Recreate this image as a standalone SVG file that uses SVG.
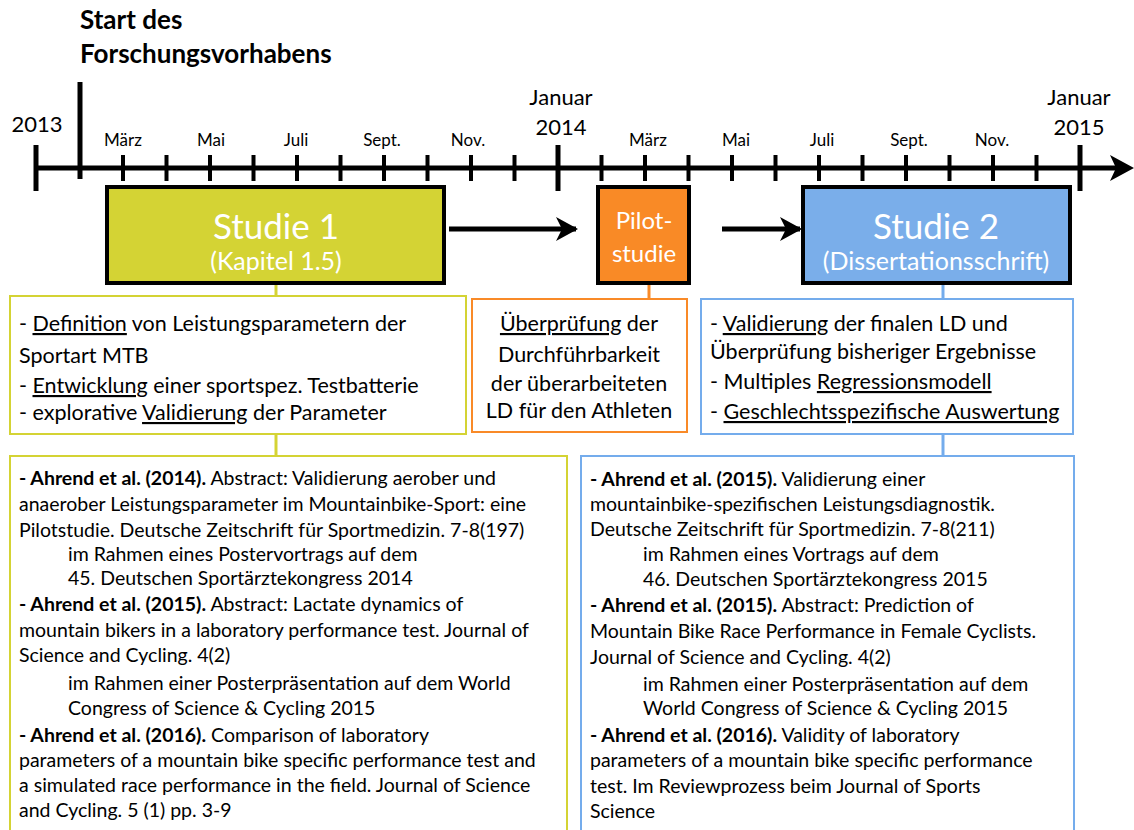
<svg xmlns="http://www.w3.org/2000/svg" width="1134" height="830" viewBox="0 0 1134 830">
  <style>
    text { font-family: Lato, "Open Sans", "DejaVu Sans", sans-serif; fill: #000; }
    .tl { stroke: #000; stroke-width: 5; fill: none; }
    .tick { stroke: #000; stroke-width: 4; }
    .month { font-size: 17px; text-anchor: middle; }
    .year { font-size: 22px; text-anchor: middle; }
    .head { font-size: 26px; font-weight: bold; }
    .study { stroke: #000; stroke-width: 4; }
    .big { font-size: 35px; fill: #fff; text-anchor: middle; }
    .sub { font-size: 25px; fill: #fff; text-anchor: middle; }
    .desc { font-size: 21.5px; }
    .ref { font-size: 19.5px; }
    .u { text-decoration: underline; }
    .b { font-weight: bold; }
    .yel { stroke: #d4d334; }
    .org { stroke: #f98a28; }
    .blu { stroke: #74acec; }
    .frame { fill: #fff; stroke-width: 2; }
    .link { stroke-width: 3; fill: none; }
  </style>
  <defs>
    <marker id="head" markerUnits="userSpaceOnUse" markerWidth="22" markerHeight="24" refX="20" refY="12" orient="auto">
      <path d="M0,0 L22,12 L0,24 L6,12 Z" fill="#000"/>
    </marker>
  </defs>

  <!-- timeline axis -->
  <g id="timeline">
    <line class="tl" x1="36" y1="168" x2="1118" y2="168"/>
    <path d="M1110,155 L1134,168 L1110,181 L1116,168 Z" fill="#000"/>
    <!-- year ticks -->
    <line class="tl" x1="36" y1="145" x2="36" y2="191"/>
    <line class="tl" x1="558" y1="145" x2="558" y2="191"/>
    <line class="tl" x1="1080" y1="145" x2="1080" y2="191"/>
    <!-- project start -->
    <line class="tl" x1="80" y1="82" x2="80" y2="179"/>
    <!-- month ticks -->
    <g class="tick">
      <line x1="123" y1="155" x2="123" y2="181"/>
      <line x1="166.5" y1="155" x2="166.5" y2="181"/>
      <line x1="210" y1="155" x2="210" y2="181"/>
      <line x1="253.5" y1="155" x2="253.5" y2="181"/>
      <line x1="297" y1="155" x2="297" y2="181"/>
      <line x1="340.5" y1="155" x2="340.5" y2="181"/>
      <line x1="384" y1="155" x2="384" y2="181"/>
      <line x1="427.5" y1="155" x2="427.5" y2="181"/>
      <line x1="471" y1="155" x2="471" y2="181"/>
      <line x1="514.5" y1="155" x2="514.5" y2="181"/>
      <line x1="601.5" y1="155" x2="601.5" y2="181"/>
      <line x1="645" y1="155" x2="645" y2="181"/>
      <line x1="688.5" y1="155" x2="688.5" y2="181"/>
      <line x1="732" y1="155" x2="732" y2="181"/>
      <line x1="775.5" y1="155" x2="775.5" y2="181"/>
      <line x1="819" y1="155" x2="819" y2="181"/>
      <line x1="862.5" y1="155" x2="862.5" y2="181"/>
      <line x1="906" y1="155" x2="906" y2="181"/>
      <line x1="949.5" y1="155" x2="949.5" y2="181"/>
      <line x1="993" y1="155" x2="993" y2="181"/>
      <line x1="1036.5" y1="155" x2="1036.5" y2="181"/>
    </g>
    <text class="head" x="80" y="29">Start des</text>
    <text class="head" x="80" y="63">Forschungsvorhabens</text>
    <text class="year" x="37" y="132">2013</text>
    <text class="year" x="561" y="105">Januar</text>
    <text class="year" x="561" y="135">2014</text>
    <text class="year" x="1079" y="105">Januar</text>
    <text class="year" x="1079" y="135">2015</text>
    <text class="month" x="123" y="146">März</text>
    <text class="month" x="211" y="146">Mai</text>
    <text class="month" x="296" y="146">Juli</text>
    <text class="month" x="382" y="146">Sept.</text>
    <text class="month" x="468" y="146">Nov.</text>
    <text class="month" x="648" y="146">März</text>
    <text class="month" x="736" y="146">Mai</text>
    <text class="month" x="822" y="146">Juli</text>
    <text class="month" x="909" y="146">Sept.</text>
    <text class="month" x="992" y="146">Nov.</text>
  </g>

  <!-- connectors -->
  <g id="connectors">
    <line class="tl" x1="449" y1="229" x2="576" y2="229" marker-end="url(#head)"/>
    <line class="tl" x1="722" y1="229" x2="800" y2="229" marker-end="url(#head)"/>
    <line class="link yel" x1="276" y1="285" x2="276" y2="296"/>
    <line class="link yel" x1="276" y1="434" x2="276" y2="456"/>
    <line class="link org" x1="649" y1="285" x2="649" y2="299"/>
    <line class="link blu" x1="943" y1="285" x2="943" y2="299"/>
    <line class="link blu" x1="943" y1="434" x2="943" y2="456"/>
  </g>

  <!-- study blocks -->
  <g id="studie1">
    <rect class="study" x="107" y="187" width="337" height="96" fill="#d4d334"/>
    <text class="big" x="276" y="239">Studie 1</text>
    <text class="sub" x="276" y="270">(Kapitel 1.5)</text>
  </g>
  <g id="pilotstudie">
    <rect class="study" x="598" y="187" width="91" height="96" fill="#f98a26"/>
    <text class="sub" x="644" y="229" style="font-size:24px">Pilot-</text>
    <text class="sub" x="644" y="262" style="font-size:24px">studie</text>
  </g>
  <g id="studie2">
    <rect class="study" x="803" y="187" width="267" height="96" fill="#7aaeea"/>
    <text class="big" x="936" y="239">Studie 2</text>
    <text class="sub" x="936" y="270">(Dissertationsschrift)</text>
  </g>

  <!-- goals -->
  <g id="ziele1">
    <rect class="frame yel" x="10" y="296" width="456" height="138"/>
    <text class="desc" x="19" y="331">- <tspan class="u">Definition</tspan> von Leistungsparametern der</text>
    <text class="desc" x="19" y="363">Sportart MTB</text>
    <text class="desc" x="19" y="393">- <tspan class="u">Entwicklung</tspan> einer sportspez. Testbatterie</text>
    <text class="desc" x="19" y="420">- explorative <tspan class="u">Validierung</tspan> der Parameter</text>
  </g>
  <g id="ziele-pilot">
    <rect class="frame org" x="472" y="299" width="215" height="133"/>
    <text class="desc" x="579" y="331" text-anchor="middle"><tspan class="u">Überprüfung</tspan> der</text>
    <text class="desc" x="579" y="362" text-anchor="middle">Durchführbarkeit</text>
    <text class="desc" x="579" y="391" text-anchor="middle">der überarbeiteten</text>
    <text class="desc" x="579" y="418" text-anchor="middle">LD für den Athleten</text>
  </g>
  <g id="ziele2">
    <rect class="frame blu" x="701" y="299" width="372" height="135"/>
    <text class="desc" x="710" y="331">- <tspan class="u">Validierung</tspan> der finalen LD und</text>
    <text class="desc" x="710" y="359">Überprüfung bisheriger Ergebnisse</text>
    <text class="desc" x="710" y="389">- Multiples <tspan class="u">Regressionsmodell</tspan></text>
    <text class="desc" x="710" y="419">- <tspan class="u">Geschlechtsspezifische Auswertung</tspan></text>
  </g>

  <!-- publications -->
  <g id="publikationen1">
    <rect class="frame yel" x="10" y="456" width="557" height="380"/>
    <text class="ref" x="19" y="485"><tspan class="b">- Ahrend et al. (2014).</tspan> Abstract: Validierung aerober und</text>
    <text class="ref" x="19" y="511">anaerober Leistungsparameter im Mountainbike-Sport: eine</text>
    <text class="ref" x="19" y="537">Pilotstudie. Deutsche Zeitschrift für Sportmedizin. 7-8(197)</text>
    <text class="ref" x="68" y="561">im Rahmen eines Postervortrags auf dem</text>
    <text class="ref" x="68" y="585">45. Deutschen Sportärztekongress 2014</text>
    <text class="ref" x="19" y="611"><tspan class="b">- Ahrend et al. (2015).</tspan> Abstract: Lactate dynamics of</text>
    <text class="ref" x="19" y="637">mountain bikers in a laboratory performance test. Journal of</text>
    <text class="ref" x="19" y="662">Science and Cycling. 4(2)</text>
    <text class="ref" x="68" y="690">im Rahmen einer Posterpräsentation auf dem World</text>
    <text class="ref" x="68" y="715">Congress of Science &amp; Cycling 2015</text>
    <text class="ref" x="19" y="742"><tspan class="b">- Ahrend et al. (2016).</tspan> Comparison of laboratory</text>
    <text class="ref" x="19" y="767">parameters of a mountain bike specific performance test and</text>
    <text class="ref" x="19" y="792">a simulated race performance in the field. Journal of Science</text>
    <text class="ref" x="19" y="817">and Cycling. 5 (1) pp. 3-9</text>
  </g>
  <g id="publikationen2">
    <rect class="frame blu" x="581" y="456" width="493" height="380"/>
    <text class="ref" x="590" y="486"><tspan class="b">- Ahrend et al. (2015).</tspan> Validierung einer</text>
    <text class="ref" x="590" y="511">mountainbike-spezifischen Leistungsdiagnostik.</text>
    <text class="ref" x="590" y="536">Deutsche Zeitschrift für Sportmedizin. 7-8(211)</text>
    <text class="ref" x="643" y="561">im Rahmen eines Vortrags auf dem</text>
    <text class="ref" x="643" y="586">46. Deutschen Sportärztekongress 2015</text>
    <text class="ref" x="590" y="612"><tspan class="b">- Ahrend et al. (2015).</tspan> Abstract: Prediction of</text>
    <text class="ref" x="590" y="638">Mountain Bike Race Performance in Female Cyclists.</text>
    <text class="ref" x="590" y="664">Journal of Science and Cycling. 4(2)</text>
    <text class="ref" x="643" y="691">im Rahmen einer Posterpräsentation auf dem</text>
    <text class="ref" x="643" y="715">World Congress of Science &amp; Cycling 2015</text>
    <text class="ref" x="590" y="742"><tspan class="b">- Ahrend et al. (2016).</tspan> Validity of laboratory</text>
    <text class="ref" x="590" y="767">parameters of a mountain bike specific performance</text>
    <text class="ref" x="590" y="793">test. Im Reviewprozess beim Journal of Sports</text>
    <text class="ref" x="590" y="818">Science</text>
  </g>
</svg>
